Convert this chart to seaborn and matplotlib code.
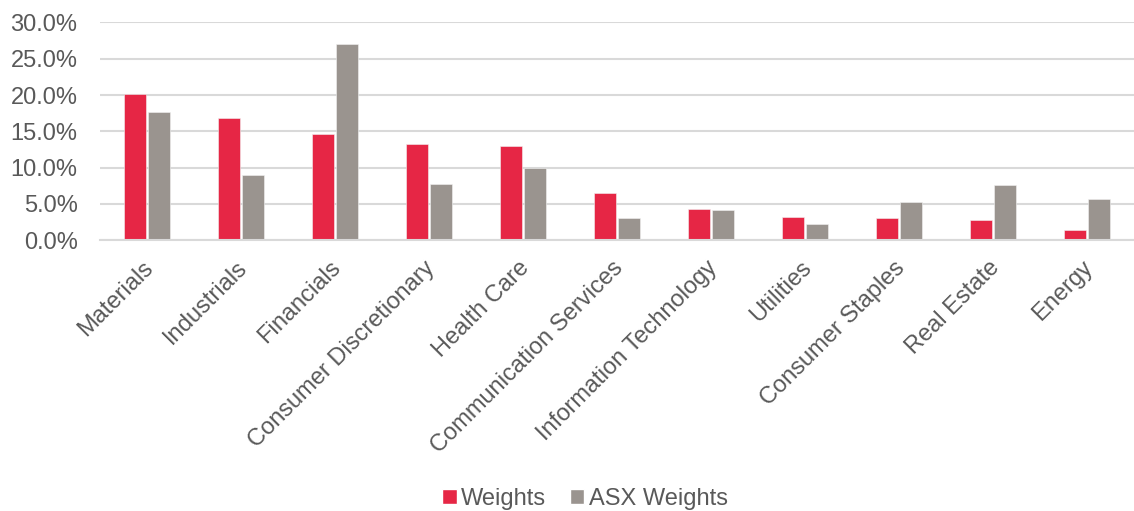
import pandas as pd
import matplotlib
matplotlib.use("Agg")
import matplotlib.pyplot as plt
import matplotlib.transforms as mtransforms
import seaborn as sns
from matplotlib.patches import Patch
from matplotlib.ticker import FuncFormatter

sectors = ["Materials", "Industrials", "Financials", "Consumer Discretionary",
           "Health Care", "Communication Services", "Information Technology",
           "Utilities", "Consumer Staples", "Real Estate", "Energy"]
weights = [20.1, 16.9, 14.6, 13.2, 13.0, 6.5, 4.3, 3.2, 3.1, 2.8, 1.4]
asx_weights = [17.6, 9.0, 27.0, 7.7, 10.0, 3.0, 4.1, 2.2, 5.3, 7.6, 5.7]
series = ["Weights", "ASX Weights"]

colors = {"Weights": "#E62645", "ASX Weights": "#9A948F"}
text_col = "#595959"

df = pd.DataFrame({"sector": sectors * 2,
                   "value": weights + asx_weights,
                   "series": [series[0]] * len(sectors) + [series[1]] * len(sectors)})

sns.set_theme(style="white")
plt.rcParams["font.family"] = ["Liberation Sans", "DejaVu Sans"]

fig = plt.figure(figsize=(11.34, 5.11), dpi=100)
ax = fig.add_axes([0.088, 0.530, 0.912, 0.426])

sns.barplot(data=df, x="sector", y="value", hue="series", order=sectors,
            hue_order=series, palette=colors, saturation=1, width=0.52, gap=0.1,
            edgecolor="#F2F2F2", linewidth=0.4, legend=False, ax=ax)

ax.set_ylim(0, 30)
ax.set_yticks(range(0, 31, 5))
ax.yaxis.set_major_formatter(FuncFormatter(lambda v, p: f"{v:.1f}%"))
ax.grid(axis="y", color="#D9D9D9", linewidth=1.5)
ax.set_axisbelow(True)
for s in ["top", "right", "left"]:
    ax.spines[s].set_visible(False)
ax.spines["bottom"].set_color("#D9D9D9")
ax.spines["bottom"].set_linewidth(1.5)
ax.set_xlim(-0.5, len(sectors) - 0.5)
ax.set_xlabel("")
ax.set_ylabel("")
ax.tick_params(axis="both", length=0, colors=text_col, labelsize=17)
ax.tick_params(axis="y", pad=16)
ax.tick_params(axis="x", pad=12)
plt.setp(ax.get_xticklabels(), rotation=45, ha="right", rotation_mode="anchor")

# nudge rotated labels a little left, like the original
shift = mtransforms.ScaledTranslation(-5 / 100, 0, fig.dpi_scale_trans)
for lbl in ax.get_xticklabels():
    lbl.set_transform(lbl.get_transform() + shift)

handles = [Patch(facecolor=colors[s], label=s) for s in series]
fig.legend(handles=handles, loc="lower center", bbox_to_anchor=(0.516, -0.04),
           ncol=2, frameon=False, fontsize=17, handlelength=0.6,
           handleheight=0.6, handletextpad=0.2, columnspacing=1.0,
           labelcolor=text_col)

fig.savefig("out.png", dpi=100)
